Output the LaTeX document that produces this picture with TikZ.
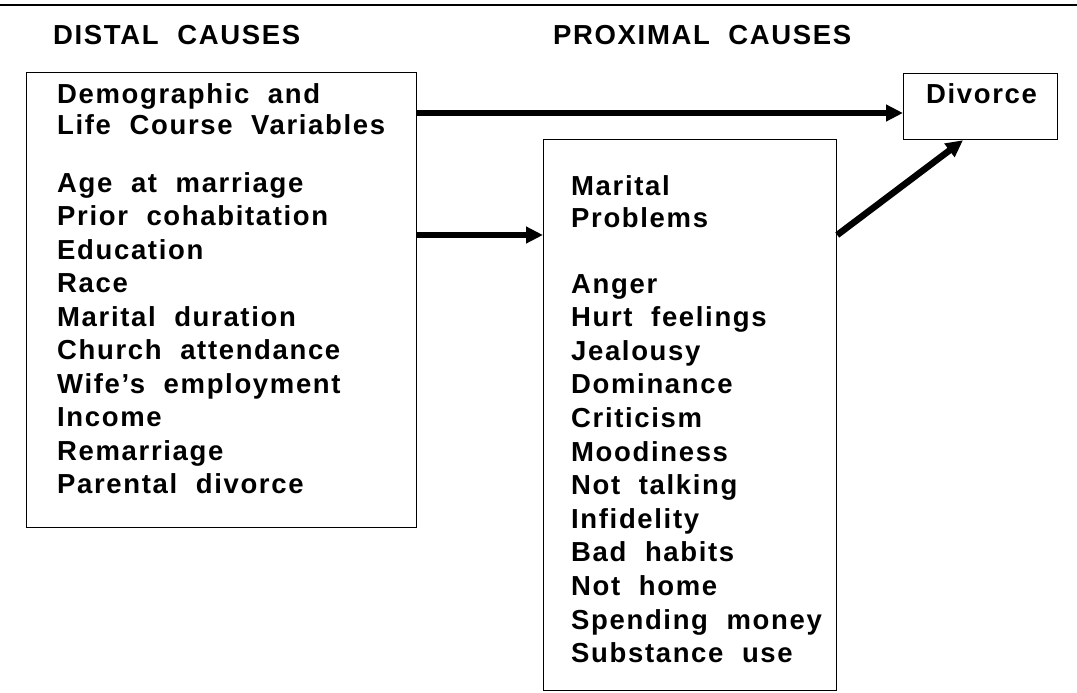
\documentclass[tikz,border=0pt]{standalone}
\usepackage{fontspec}
\setmainfont{Liberation Sans}[LetterSpace=6, WordSpace=2]
\usetikzlibrary{calc, positioning, arrows.meta}

\begin{document}
\begin{tikzpicture}[x=1pt, y=-1pt, >={Triangle[length=17pt, width=16pt]}, font=\fontsize{27.5}{33}\selectfont\bfseries]
\tikzstyle{box}=[draw, line width=1.2pt, rectangle, inner sep=0pt, anchor=north west]
\tikzstyle{item}=[inner sep=0pt, anchor=base west]
\tikzstyle{link}=[->, line width=6.5pt]
\useasboundingbox (0,0) rectangle (1077,693);

\draw[line width=2.5pt] (0,5) -- (1077,5);

\node[item]    (dhead) at (53,45)   {DISTAL CAUSES};
\node[item]    (phead) at (553,45)  {PROXIMAL CAUSES};

\node[box, minimum width=390pt, minimum height=455pt] (distal)   at (26,72)  {};
\node[box, minimum width=293pt, minimum height=551pt] (proximal) at (543,139) {};
\node[box, minimum width=154pt, minimum height=66pt]  (divorce)  at (903,73) {};

\node[item]    (dv1) at (57,103)  {Demographic and};
\node[item]    (dv2) at (57,134)  {Life Course Variables};
\foreach \t [count=\i] in {Age at marriage, Prior cohabitation, Education, Race,
    Marital duration, Church attendance, Wife’s employment, Income, Remarriage,
    Parental divorce}
  \node[item] (d\i) at (57,{192+33.5*(\i-1)}) {\t};

\node[item]    (pm1) at (571,195) {Marital};
\node[item]    (pm2) at (571,227) {Problems};
\foreach \t [count=\i] in {Anger, Hurt feelings, Jealousy, Dominance, Criticism,
    Moodiness, Not talking, Infidelity, Bad habits, Not home, Spending money,
    Substance use}
  \node[item] (p\i) at (571,{293+33.6*(\i-1)}) {\t};

\node[item]    (dtext) at (926,103) {Divorce};

\draw[link] ($(distal.north east)+(0,41)$) -- ($(divorce.north west)+(0,40)$);
\draw[link] ($(distal.north east)+(0,163)$) -- ($(proximal.north west)+(0,96)$);
\draw[link] ($(proximal.north east)+(0,96)$) -- ($(divorce.south west)+(60,0)$);
\end{tikzpicture}
\end{document}
